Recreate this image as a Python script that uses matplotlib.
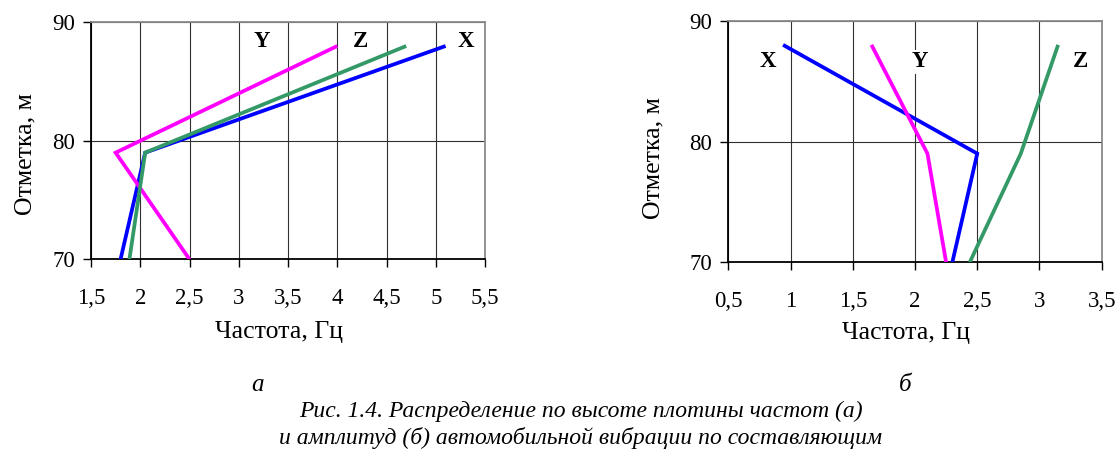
import matplotlib
matplotlib.use("Agg")
import matplotlib.pyplot as plt

plt.rcParams['font.family'] = ['Liberation Serif', 'DejaVu Serif']

# ---- data ----
heights = [70, 79, 88]                 # Отметка, м
series_names = ['X', 'Y', 'Z']

# (a) frequencies
freq_x = [1.80, 2.05, 5.10]
freq_y = [2.50, 1.75, 4.00]
freq_z = [1.89, 2.05, 4.70]

# (б) amplitudes
amp_x = [2.30, 2.50, 0.94]
amp_y = [2.25, 2.10, 1.65]
amp_z = [2.44, 2.85, 3.15]

xticks_a = [1.5, 2, 2.5, 3, 3.5, 4, 4.5, 5, 5.5]
xticks_b = [0.5, 1, 1.5, 2, 2.5, 3, 3.5]
yticks = [70, 80, 90]

colors = {'X': '#0000FF', 'Y': '#FF00FF', 'Z': '#339966'}

W, H = 1117, 459
fig = plt.figure(figsize=(W / 100, H / 100), dpi=100)


def fmt(v):
    s = ('%g' % v)
    return s.replace('.', ',')


def make_ax(rect, xticks, data, labels):
    ax = fig.add_axes(rect)
    for name, vals in zip(series_names, data):
        ax.plot(vals, heights, color=colors[name], lw=2.7, solid_capstyle='butt',
                solid_joinstyle='miter', zorder=3)
    ax.set_xlim(xticks[0], xticks[-1])
    ax.set_ylim(70, 90)
    ax.set_xticks(xticks)
    ax.set_xticklabels([fmt(v) for v in xticks])
    ax.set_yticks(yticks)
    ax.set_yticklabels([str(v) for v in yticks])
    ax.grid(True, color='#303030', lw=0.8, zorder=1)
    ax.set_axisbelow(True)
    for s in ['left', 'bottom']:
        ax.spines[s].set_color('black')
        ax.spines[s].set_linewidth(1.3)
    for s in ['top', 'right']:
        ax.spines[s].set_color('#8a8a8a')
        ax.spines[s].set_linewidth(1.3)
    ax.tick_params(axis='x', direction='out', length=5.5, width=1, pad=15,
                   labelsize=16.5, colors='black')
    ax.tick_params(axis='y', direction='out', length=5.5, width=1, pad=6,
                   labelsize=16.5, colors='black')
    for txt, x, y, bg in labels:
        kw = {}
        if bg:
            kw['bbox'] = dict(facecolor='white', edgecolor='none', pad=1.0)
        ax.text(x, y, txt, fontsize=16.5, fontweight='bold', ha='center',
                va='center', zorder=4, **kw)
    return ax


ax1 = make_ax([91 / W, 1 - 259.3 / H, (485 - 91) / W, (259.3 - 22.3) / H],
              xticks_a, [freq_x, freq_y, freq_z],
              [('Y', 3.23, 88.4, False), ('Z', 4.24, 88.4, False), ('X', 5.31, 88.4, False)])
ax2 = make_ax([728.3 / W, 1 - 262.3 / H, (1101.7 - 728.3) / W, (262.3 - 20.7) / H],
              xticks_b, [amp_x, amp_y, amp_z],
              [('X', 0.82, 86.6, False), ('Y', 2.04, 86.6, True), ('Z', 3.33, 86.6, False)])

# axis labels
fig.text(279 / W, 1 - 332 / H, 'Частота, Гц', fontsize=18.5, ha='center', va='center')
fig.text(906 / W, 1 - 333 / H, 'Частота, Гц', fontsize=18.5, ha='center', va='center')
fig.text(25 / W, 1 - 154 / H, 'Отметка, м', fontsize=18.5, rotation=90,
         ha='center', va='center')
fig.text(653 / W, 1 - 158 / H, 'Отметка, м', fontsize=18.5, rotation=90,
         ha='center', va='center')

# caption
fig.text(258 / W, 1 - 385 / H, 'а', fontsize=18, style='italic', ha='center', va='center')
fig.text(905 / W, 1 - 385 / H, 'б', fontsize=18, style='italic', ha='center', va='center')
fig.text(581 / W, 1 - 411 / H, 'Рис. 1.4. Распределение по высоте плотины частот (а)',
         fontsize=17, style='italic', ha='center', va='center')
fig.text(581 / W, 1 - 438 / H, 'и амплитуд (б) автомобильной вибрации по составляющим',
         fontsize=17, style='italic', ha='center', va='center')

fig.savefig('out.png', dpi=100, facecolor='white')
